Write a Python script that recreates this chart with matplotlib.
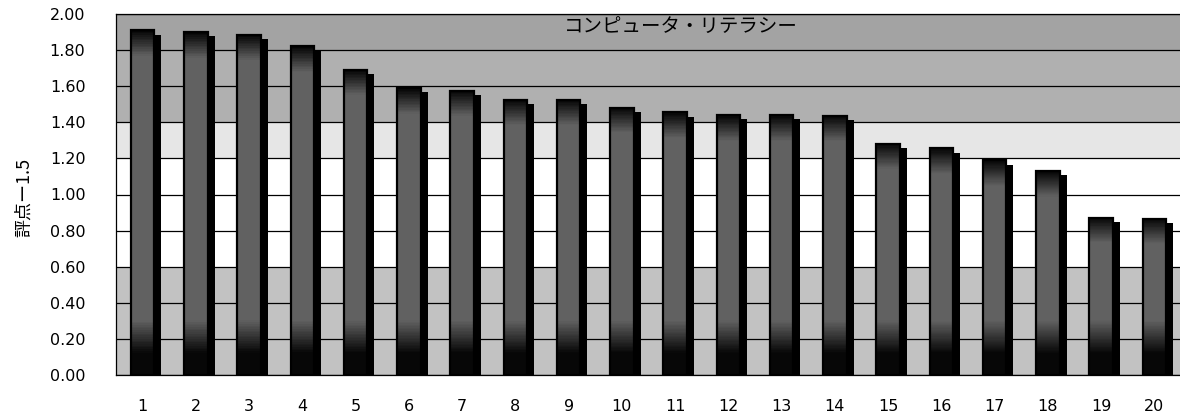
import numpy as np
import matplotlib
matplotlib.use("Agg")
import matplotlib.pyplot as plt
from matplotlib.patches import Rectangle

plt.rcParams['font.family'] = ['DejaVu Sans', 'Noto Sans CJK JP']

# data
categories = [str(i) for i in range(1, 21)]
scores = [1.91, 1.90, 1.885, 1.82, 1.69, 1.59, 1.575, 1.525, 1.525, 1.48,
          1.455, 1.44, 1.44, 1.435, 1.28, 1.255, 1.19, 1.13, 0.87, 0.865]
title = 'コンピュータ・リテラシー'
ylabel = '評点ー1.5'
yticks = [0.0, 0.2, 0.4, 0.6, 0.8, 1.0, 1.2, 1.4, 1.6, 1.8, 2.0]

W, H = 1180, 413
fig = plt.figure(figsize=(W / 100, H / 100), dpi=100)
ax = fig.add_axes([116 / W, 1 - 375 / H, (1181 - 116) / W, (375 - 14) / H])

x = np.arange(1, len(scores) + 1)

# background bands (scanned halftone look)
ys = np.linspace(0, 2.0, 400)
bg = np.where(ys >= 1.8, 0.64,
     np.where(ys >= 1.4, 0.69,
     np.where(ys >= 1.2, 0.90,
     np.where(ys >= 0.6, 1.0, 0.76))))
ax.imshow(bg[:, None], cmap='gray', vmin=0, vmax=1, aspect='auto', origin='lower',
          interpolation='nearest', extent=[0.5, len(scores) + 0.5, 0, 2.0], zorder=0)

for yv in yticks:
    ax.axhline(yv, color='black', lw=0.9, zorder=1)

# bars: black shadow behind, shaded front face
bw = 0.445
shadow_dx = 0.13
for xi, h in zip(x, scores):
    ax.add_patch(Rectangle((xi, 0), bw / 2 + shadow_dx, h - 0.024,
                           facecolor='black', edgecolor='none', zorder=2))
    v = np.linspace(0, h, 200)
    prof = np.full_like(v, 0.38)
    prof = np.where(v < 0.12, 0.03, prof)
    ramp = (v >= 0.12) & (v < 0.3)
    prof[ramp] = 0.03 + (v[ramp] - 0.12) / 0.18 * 0.35
    top = v > h - 0.14
    prof[top] = 0.38 - (v[top] - (h - 0.14)) / 0.14 * 0.36
    ax.imshow(prof[:, None], cmap='gray', vmin=0, vmax=1, aspect='auto', origin='lower',
              interpolation='nearest', extent=[xi - bw / 2, xi + bw / 2, 0, h], zorder=3)
    ax.add_patch(Rectangle((xi - bw / 2, 0), bw, h, facecolor='none',
                           edgecolor='black', lw=1.6, zorder=4))

ax.set_xlim(0.5, len(scores) + 0.5)
ax.set_ylim(0, 2.0)

ax.text(11.1, 1.93, title, ha='center', va='center', fontsize=14,
        family=['Noto Sans CJK JP', 'DejaVu Sans'], zorder=5)

ax.set_xticks(x)
ax.set_xticklabels(categories)
ax.set_yticks(yticks)
ax.set_yticklabels([f'{t:.2f}' for t in yticks])
ax.tick_params(axis='y', length=0, pad=22, labelsize=11.5)
ax.tick_params(axis='x', length=0, pad=17, labelsize=11.5)
for s in ax.spines.values():
    s.set_color('black')
    s.set_linewidth(0.9)

fig.text(24 / W, 1 - 197 / H, ylabel, rotation=90, ha='center', va='center',
         fontsize=13, family=['Noto Sans CJK JP', 'DejaVu Sans'])

fig.savefig('out.png', dpi=100)
